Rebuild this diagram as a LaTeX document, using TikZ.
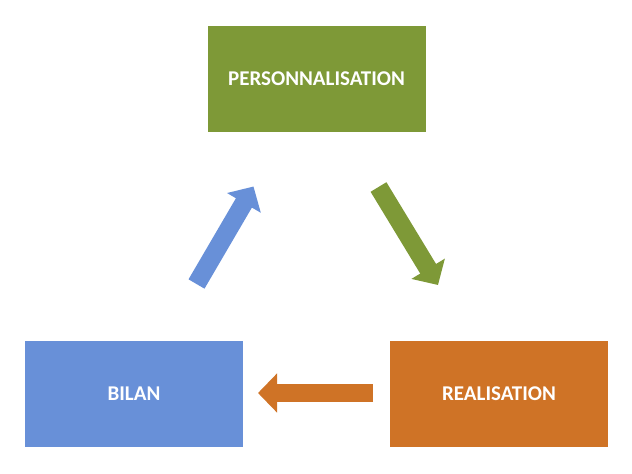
\documentclass[tikz,border=0pt]{standalone}
\usepackage{fontspec}
\setmainfont{Carlito}
\usepackage{tikz}
\usetikzlibrary{arrows.meta,positioning,calc}
\usepackage{xcolor}
\definecolor{pgreen}{HTML}{7E9937}
\definecolor{pblue}{HTML}{6890D8}
\definecolor{porange}{HTML}{CF7326}

\begin{document}
\begin{tikzpicture}[x=1pt, y=-1pt, font=\fontsize{21}{24}\selectfont\bfseries,
  stage/.style={minimum width=218pt, minimum height=106pt, inner sep=0pt, text=white},
  fatarrow/.style={line width=18.5pt, -{Triangle[length=19pt,width=38pt]}}]
\useasboundingbox (0,0) rectangle (632,474);

\node[stage, fill=pgreen] (perso) at (316.5,78.5) {PERSONNALISATION};
\node[stage, fill=pblue] (bilan) at (134,394) {BILAN};
\node[stage, fill=porange] (real) at (499,394) {REALISATION};

\coordinate (b1) at (196.5,284);
\coordinate (b2) at (253.5,186.5);
\coordinate (g1) at (378.5,187);
\coordinate (g2) at (438,285);
\coordinate (o1) at (373,393);
\coordinate (o2) at (258,393);

\draw[fatarrow, pblue] (b1) -- (b2);
\draw[fatarrow, pgreen] (g1) -- (g2);
\draw[fatarrow, porange] (o1) -- (o2);
\end{tikzpicture}
\end{document}
